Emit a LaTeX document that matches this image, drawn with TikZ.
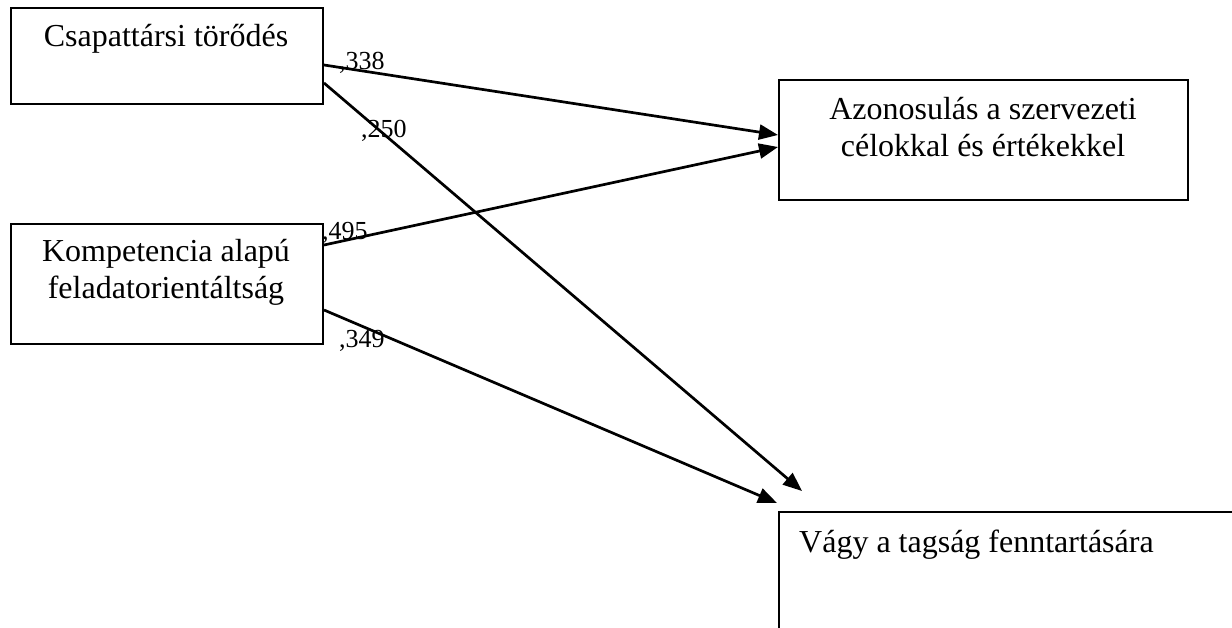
\documentclass[tikz,border=0pt]{standalone}
\usepackage{fontspec}
\setmainfont{Liberation Serif}
\usetikzlibrary{arrows.meta}

\begin{document}
\begin{tikzpicture}[x=1pt,y=-1pt,
  box/.style={draw, line width=2pt, rectangle, inner sep=0pt, anchor=north west},
  boxtext/.style={font=\fontsize{32}{37}\selectfont, inner sep=0pt, align=center},
  coef/.style={font=\fontsize{26}{30}\selectfont, inner sep=0pt, anchor=base west},
  link/.style={line width=2.7pt, -{Triangle[length=19pt,width=15pt]}}]

\path[use as bounding box, clip] (0,0) rectangle (1232,628);

% construct boxes
\node[box, minimum width=312pt, minimum height=96pt]  (c1) at (10,7) {};
\node[box, minimum width=409pt, minimum height=120pt] (c2) at (778,79) {};
\node[box, minimum width=312pt, minimum height=120pt] (c3) at (10,223) {};
\node[box, minimum width=520pt, minimum height=160pt] (c4) at (778,511) {};

% construct names (base anchor = baseline of the last line)
\node[boxtext, anchor=base] (t1) at (166,47) {Csapattársi törődés};
\node[boxtext, anchor=base] (t2) at (983,157) {Azonosulás a szervezeti\\célokkal és értékekkel};
\node[boxtext, anchor=base] (t3) at (166,299) {Kompetencia alapú\\feladatorientáltság};
\node[boxtext, anchor=base west] (t4) at (799,552) {Vágy a tagság fenntartására};

% paths
\draw[link] ([yshift=-58pt]c1.north east) -- ([yshift=-56pt]c2.north west);
\draw[link] ([yshift=-76pt]c1.north east) -- ([xshift=24pt,yshift=20pt]c4.north west);
\draw[link] ([yshift=-22pt]c3.north east) -- ([yshift=-68pt]c2.north west);
\draw[link] ([yshift=-87pt]c3.north east) -- ([xshift=-1pt,yshift=8pt]c4.north west);

% path coefficients
\node[coef] (k1) at (339,70)  {,338};
\node[coef] (k2) at (361,138) {,250};
\node[coef] (k3) at (322,240) {,495};
\node[coef] (k4) at (339,348) {,349};
\end{tikzpicture}
\end{document}
